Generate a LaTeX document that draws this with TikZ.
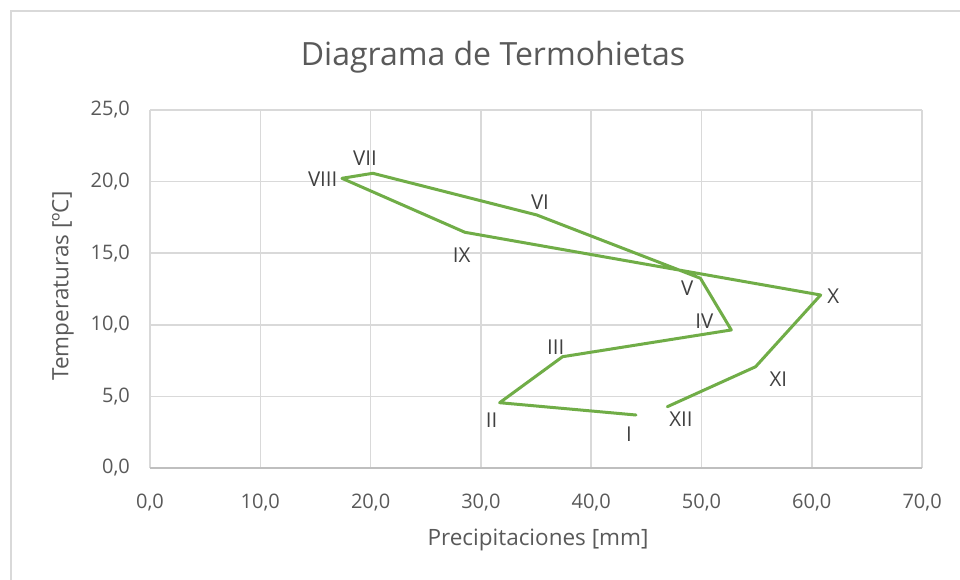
\documentclass[tikz,border=0pt]{standalone}
\usepackage{fontspec}
\setmainfont{Open Sans}
\definecolor{gridc}{HTML}{D9D9D9}
\definecolor{axisc}{HTML}{BFBFBF}
\definecolor{ticktxt}{HTML}{595959}
\definecolor{lbltxt}{HTML}{404040}
\definecolor{serc}{HTML}{70AD47}
\tikzset{
  gridline/.style={draw=gridc, line width=1.5pt},
  axisline/.style={draw=axisc, line width=1.5pt},
  frameline/.style={draw=gridc, line width=2pt},
  series/.style={draw=serc, line width=3pt, line join=round, line cap=round},
  ticklbl/.style={text=ticktxt, font=\fontsize{20}{24}\selectfont, inner sep=0pt},
  ptlbl/.style={text=lbltxt, font=\fontsize{20.5}{24}\selectfont, inner sep=0pt},
  axtitle/.style={text=ticktxt, font=\fontsize{22.5}{27}\selectfont, inner sep=0pt},
  charttitle/.style={text=ticktxt, font=\fontsize{32}{38}\selectfont, inner sep=0pt}
}
\begin{document}
\begin{tikzpicture}[x=1pt,y=1pt]
\useasboundingbox (0,0) rectangle (960,580);
\fill[white] (0,0) rectangle (960,580);
% outer chart frame
\coordinate (fTL) at (11,569);
\coordinate (fTR) at (962,569);
\coordinate (fBL) at (11,-2);
\draw[frameline] (fTR) -- (fTL) -- (fBL);
% title
\node[charttitle] (title) at (493,523) {Diagrama de Termohietas};
\begin{scope}[shift={(150,112)}, x=11.03pt, y=14.32pt]
  % horizontal gridlines
  \foreach \v in {5,10,15,20,25} {
    \draw[gridline] (0,\v) -- (70,\v);
  }
  % vertical gridlines
  \foreach \u in {0,10,20,30,40,50,60,70} {
    \draw[gridline] (\u,0) -- (\u,25);
  }
  \draw[axisline] (0,0) -- (70,0);
  % y tick labels
  \foreach \v/\t in {0/{0,0},5/{5,0},10/{10,0},15/{15,0},20/{20,0},25/{25,0}} {
    \node[ticklbl, anchor=east] at (-1.81,\v) {\t};
  }
  % x tick labels
  \foreach \u/\t in {0/{0,0},10/{10,0},20/{20,0},30/{30,0},40/{40,0},50/{50,0},60/{60,0},70/{70,0}} {
    \node[ticklbl] at (\u,-2.4) {\t};
  }
  % data points
  \coordinate (m1) at (44.06,3.70);
  \coordinate (m2) at (31.70,4.56);
  \coordinate (m3) at (37.40,7.77);
  \coordinate (m4) at (52.70,9.64);
  \coordinate (m5) at (49.90,13.25);
  \coordinate (m6) at (35.06,17.67);
  \coordinate (m7) at (20.20,20.58);
  \coordinate (m8) at (17.40,20.23);
  \coordinate (m9) at (28.55,16.46);
  \coordinate (m10) at (60.80,12.08);
  \coordinate (m11) at (54.90,7.07);
  \coordinate (m12) at (46.90,4.28);
  \draw[series] (m1) -- (m2) -- (m3) -- (m4) -- (m5) -- (m6) -- (m7) -- (m8) -- (m9) -- (m10) -- (m11) -- (m12);
\end{scope}
% point labels (image px: x, 580-y)
\node[ptlbl] (l1) at (629,145.7) {I};
\node[ptlbl] (l2) at (491.7,160) {II};
\node[ptlbl] (l3) at (555.7,233.3) {III};
\node[ptlbl] (l4) at (704.3,259) {IV};
\node[ptlbl] (l5) at (687.3,291.7) {V};
\node[ptlbl] (l6) at (540,378.3) {VI};
\node[ptlbl] (l7) at (365,422) {VII};
\node[ptlbl] (l8) at (322.7,400.7) {VIII};
\node[ptlbl] (l9) at (461.7,325) {IX};
\node[ptlbl] (l10) at (833.3,284) {X};
\node[ptlbl] (l11) at (778.3,200.7) {XI};
\node[ptlbl] (l12) at (681,160.7) {XII};
% axis titles
\node[axtitle] (xt) at (538,40) {Precipitaciones [mm]};
\node[axtitle, rotate=90] (yt) at (63,294) {Temperaturas [ºC]};
\end{tikzpicture}
\end{document}
